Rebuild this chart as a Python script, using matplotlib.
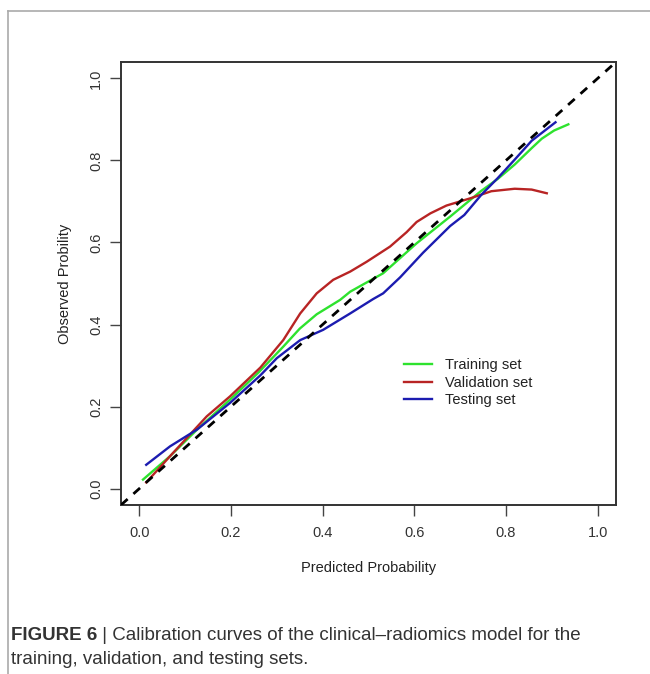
import matplotlib
matplotlib.use("Agg")
import matplotlib.pyplot as plt
from matplotlib.lines import Line2D

plt.rcParams['font.family'] = ['Liberation Sans', 'DejaVu Sans']

# calibration curves (predicted, observed)
train_x = [0.008, 0.067, 0.126, 0.198, 0.26, 0.314, 0.35, 0.387, 0.438, 0.46, 0.532,
           0.605, 0.678, 0.745, 0.782, 0.819, 0.856, 0.878, 0.905, 0.936]
train_y = [0.022, 0.079, 0.144, 0.217, 0.283, 0.346, 0.39, 0.425, 0.46, 0.48, 0.525,
           0.598, 0.663, 0.725, 0.755, 0.79, 0.83, 0.853, 0.873, 0.888]

valid_x = [0.015, 0.067, 0.147, 0.198, 0.264, 0.314, 0.351, 0.387, 0.423, 0.46, 0.496,
           0.547, 0.583, 0.605, 0.635, 0.67, 0.723, 0.768, 0.819, 0.856, 0.889]
valid_y = [0.015, 0.079, 0.176, 0.225, 0.295, 0.362, 0.427, 0.476, 0.509, 0.529, 0.553,
           0.59, 0.625, 0.65, 0.671, 0.69, 0.708, 0.725, 0.731, 0.729, 0.72]

test_x = [0.015, 0.067, 0.126, 0.198, 0.264, 0.3, 0.351, 0.401, 0.46, 0.51, 0.532,
          0.569, 0.619, 0.678, 0.709, 0.746, 0.782, 0.819, 0.856, 0.908]
test_y = [0.058, 0.103, 0.144, 0.209, 0.276, 0.318, 0.362, 0.387, 0.427, 0.462, 0.476,
          0.515, 0.575, 0.64, 0.667, 0.716, 0.757, 0.802, 0.848, 0.893]

series = [("Training set", train_x, train_y, "#2ee22e"),
          ("Validation set", valid_x, valid_y, "#b82424"),
          ("Testing set", test_x, test_y, "#1c1cb0")]

ticks = [0.0, 0.2, 0.4, 0.6, 0.8, 1.0]
lims = (-0.04, 1.04)

fig = plt.figure(figsize=(6.5, 6.74), dpi=100)
ax = fig.add_axes([121 / 650, 1 - 505 / 674, (616 - 121) / 650, (505 - 62) / 674])

# ideal line
ax.plot(lims, lims, color="black", linestyle=(0, (3.2, 2.8)), linewidth=2.0, zorder=3)

for label, x, y, col in series:
    ax.plot(x, y, color=col, linewidth=1.7, label=label, zorder=2)

ax.set_xlim(lims)
ax.set_ylim(lims)
ax.set_xticks(ticks)
ax.set_yticks(ticks)
ax.set_xticklabels([f"{t:.1f}" for t in ticks])
ax.set_yticklabels([f"{t:.1f}" for t in ticks], rotation=90, va="center")
ax.tick_params(length=8, width=1, color="#444444", labelcolor="#333333",
               labelsize=10.5)
ax.tick_params(axis="x", pad=7)
ax.tick_params(axis="y", pad=5)
for s in ax.spines.values():
    s.set_color("#333333")
    s.set_linewidth(1.4)

ax.set_xlabel("Predicted Probability", fontsize=10.5, color="#222222", labelpad=15)
ax.set_ylabel("Observed Probility", fontsize=10.5, color="#222222", labelpad=12)

leg = ax.legend(loc="upper left", bbox_to_anchor=(0.56, 0.345), frameon=False,
                fontsize=10.5, handlelength=1.9, handletextpad=0.9,
                labelspacing=0.25, borderaxespad=0)
for t in leg.get_texts():
    t.set_color("#222222")

# page frame and caption
fig.add_artist(Line2D([8 / 650, 1], [1 - 11 / 674] * 2, color="#aaaaaa", linewidth=1.2))
fig.add_artist(Line2D([8 / 650] * 2, [0, 1 - 11 / 674], color="#aaaaaa", linewidth=1.2))

cap_y1 = 1 - 636 / 674
cap_y2 = 1 - 659 / 674
bold = fig.text(11 / 650, cap_y1, "FIGURE 6", fontsize=13.5, fontweight="bold",
                color="#333333", va="center")
fig.canvas.draw()
bb = bold.get_window_extent()
fig.text(bb.x1 / 650, cap_y1,
         " | Calibration curves of the clinical\u2013radiomics model for the",
         fontsize=13.5, color="#333333", va="center")
fig.text(11 / 650, cap_y2, "training, validation, and testing sets.",
         fontsize=13.5, color="#333333", va="center")

fig.savefig("out.png", dpi=100)
